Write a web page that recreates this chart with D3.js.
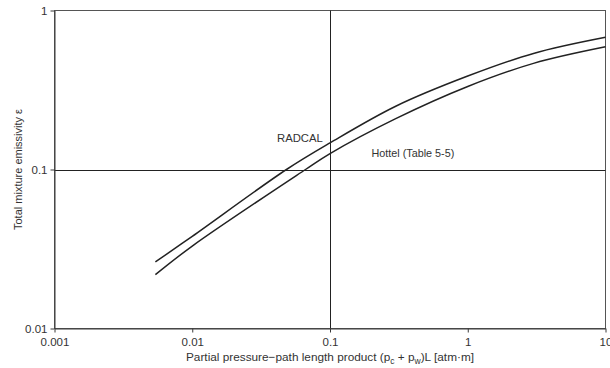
<!DOCTYPE html>
<html><head><meta charset="utf-8">
<script src="https://cdn.jsdelivr.net/npm/d3@7"></script>
<style>body{margin:0;background:#fff}svg{display:block}text{font-family:"Liberation Sans",Arial,sans-serif;fill:#333}</style>
</head><body>
<svg id="c" width="610" height="368"></svg>
<script>
const xTicks = [0.001, 0.01, 0.1, 1, 10];
const yTicks = [0.01, 0.1, 1];
const xTickLabels = ["0.001", "0.01", "0.1", "1", "10"];
const yTickLabels = ["0.01", "0.1", "1"];
const radcalX = [0.0054, 0.01, 0.0483, 0.1, 0.3, 1, 3, 10];
const radcalY = [0.0262, 0.038, 0.1, 0.147, 0.25, 0.387, 0.537, 0.678];
const hottelX = [0.0054, 0.01, 0.0664, 0.1, 0.3, 1, 3, 10];
const hottelY = [0.0218, 0.033, 0.1, 0.126, 0.209, 0.333, 0.465, 0.591];

const svg = d3.select("#c");
const L = 54.5, R = 605.5, T = 10.5, B = 328.5;
const x = d3.scaleLog().domain([0.001, 10]).range([L, R]);
const y = d3.scaleLog().domain([0.01, 1]).range([B, T]);
const lc = "#3a3a3a";

svg.append("rect").attr("x", L).attr("y", T).attr("width", R - L).attr("height", B - T)
  .attr("fill", "none").attr("stroke", "#555").attr("stroke-width", 1);

svg.append("line").attr("x1", Math.round(x(0.1)) + 0.5).attr("x2", Math.round(x(0.1)) + 0.5)
  .attr("y1", T).attr("y2", B).attr("stroke", "#222");
svg.append("line").attr("x1", L).attr("x2", R)
  .attr("y1", Math.round(y(0.1)) + 0.5).attr("y2", Math.round(y(0.1)) + 0.5).attr("stroke", "#222");

const xAxis = d3.axisBottom(x).tickValues(xTicks).tickSize(4).tickSizeOuter(0)
  .tickFormat((d, i) => xTickLabels[i]);
const gx = svg.append("g").attr("transform", `translate(0,${B})`).call(xAxis);
gx.select(".domain").attr("stroke", lc);
gx.selectAll(".tick line").attr("stroke", lc);
gx.selectAll(".tick text").attr("font-size", 11.5).attr("fill", "#333").attr("dy", "0.95em")
  .style("font-family", '"Liberation Sans",Arial,sans-serif');

const yAxis = d3.axisLeft(y).tickValues(yTicks).tickSize(4).tickSizeOuter(0)
  .tickFormat((d, i) => yTickLabels[i]);
const gy = svg.append("g").attr("transform", `translate(${L},0)`).call(yAxis);
gy.select(".domain").attr("stroke", lc);
gy.selectAll(".tick line").attr("stroke", lc);
gy.selectAll(".tick text").attr("font-size", 11.5).attr("fill", "#333").attr("x", -7)
  .style("font-family", '"Liberation Sans",Arial,sans-serif');

const line = d3.line().x(d => x(d[0])).y(d => y(d[1])).curve(d3.curveCatmullRom.alpha(0.5));
svg.append("path").datum(d3.zip(radcalX, radcalY)).attr("d", line)
  .attr("fill", "none").attr("stroke", "#222").attr("stroke-width", 1.5);
svg.append("path").datum(d3.zip(hottelX, hottelY)).attr("d", line)
  .attr("fill", "none").attr("stroke", "#222").attr("stroke-width", 1.5);

svg.append("text").attr("x", 277).attr("y", 142).attr("font-size", 11.3).text("RADCAL");
svg.append("text").attr("x", 371.5).attr("y", 156.5).attr("font-size", 10.8).text("Hottel (Table 5-5)");

const xt = svg.append("text").attr("x", (L + R) / 2).attr("y", 361).attr("font-size", 11.8)
  .attr("text-anchor", "middle");
xt.append("tspan").text("Partial pressure\u2212path length product (p");
xt.append("tspan").attr("font-size", 8.5).attr("dy", 3).text("c");
xt.append("tspan").attr("dy", -3).text(" + p");
xt.append("tspan").attr("font-size", 8.5).attr("dy", 3).text("w");
xt.append("tspan").attr("dy", -3).text(")L [atm\u00b7m]");

svg.append("text").attr("transform", `translate(22,${(T + B) / 2}) rotate(-90)`)
  .attr("font-size", 11).attr("text-anchor", "middle").text("Total mixture emissivity \u03b5");
</script>
</body></html>
